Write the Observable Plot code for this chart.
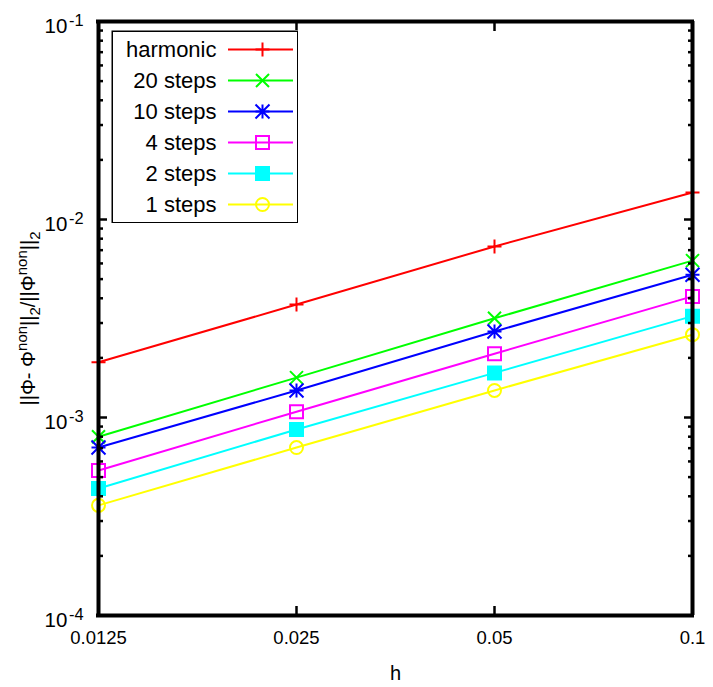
<!DOCTYPE html>
<html>
<head>
<meta charset="utf-8">
<script src="https://cdn.jsdelivr.net/npm/d3@7"></script>
<script src="https://cdn.jsdelivr.net/npm/@observablehq/plot@0.6"></script>
<style>
  html, body { margin: 0; padding: 0; background: #fff; }
  #wrap { position: relative; width: 713px; height: 687px; font-family: "Liberation Sans", Arial, sans-serif; }
  #legend { position: absolute; left: 111px; top: 30px; }
</style>
</head>
<body>
<div id="wrap"><div id="chart"></div><div id="legend"></div></div>
<script>
// ---- data ----
const hValues = [0.0125, 0.025, 0.05, 0.1];
const seriesNames = ["harmonic", "20 steps", "10 steps", "4 steps", "2 steps", "1 steps"];
const harmonic = [1.90e-3, 3.72e-3, 7.31e-3, 1.37e-2];
const steps20  = [8.0e-4, 1.59e-3, 3.17e-3, 6.2e-3];
const steps10  = [7.05e-4, 1.37e-3, 2.72e-3, 5.26e-3];
const steps4   = [5.4e-4, 1.07e-3, 2.10e-3, 4.09e-3];
const steps2   = [4.38e-4, 8.7e-4, 1.68e-3, 3.25e-3];
const steps1   = [3.6e-4, 7.05e-4, 1.37e-3, 2.62e-3];
const xTicks = [0.0125, 0.025, 0.05, 0.1];
const yMajorTicks = [1e-4, 1e-3, 1e-2, 1e-1];
const yMinorTicks = [1e-4, 1e-3, 1e-2].flatMap(b => [2,3,4,5,6,7,8,9].map(m => +(m*b).toPrecision(3)));
const xTitle = "h";

// ---- styles ----
const colors = ["#ff0000", "#00ff00", "#0000ff", "#ff00ff", "#00ffff", "#ffff00"];
const allValues = [harmonic, steps20, steps10, steps4, steps2, steps1];

const rows = seriesNames.flatMap((name, i) => hValues.map((h, j) => ({series: name, h, err: allValues[i][j]})));

// custom gnuplot-like symbols (size = pi r^2)
const rad = s => Math.sqrt(s / Math.PI);
const symPlus = {draw(c, s) { const r = rad(s); c.moveTo(-r, 0); c.lineTo(r, 0); c.moveTo(0, -r); c.lineTo(0, r); }};
const symTimes = {draw(c, s) { const r = rad(s); c.moveTo(-r, -r); c.lineTo(r, r); c.moveTo(-r, r); c.lineTo(r, -r); }};
const symStar = {draw(c, s) { const r = rad(s); c.moveTo(-r, 0); c.lineTo(r, 0); c.moveTo(0, -r); c.lineTo(0, r); c.moveTo(-r, -r); c.lineTo(r, r); c.moveTo(-r, r); c.lineTo(r, -r); }};
const symSquare = {draw(c, s) { const r = rad(s); c.rect(-r, -r, 2 * r, 2 * r); }};
const symCircle = {draw(c, s) { const r = rad(s); c.moveTo(r, 0); c.arc(0, 0, r, 0, 2 * Math.PI); }};
const symbols = [symPlus, symTimes, symStar, symSquare, symSquare, symCircle];
const symR = [7, 6.5, 7, 6.5, 6.5, 6.5];
const fills = ["none", "none", "none", "none", "series", "none"];

const colorScale = {domain: seriesNames, range: colors};
const fontFamily = "'Liberation Sans', Arial, Helvetica, sans-serif";

const dotMarks = seriesNames.map((name, i) =>
  Plot.dot(rows.filter(d => d.series === name), {
    x: "h", y: "err", symbol: symbols[i], r: symR[i],
    stroke: "series", fill: fills[i], strokeWidth: 2
  })
);

const chart = Plot.plot({
  width: 713,
  height: 687,
  marginLeft: 98,
  marginRight: 21,
  marginTop: 21,
  marginBottom: 72,
  style: {fontFamily, fontSize: "18px", color: "black", background: "white"},
  x: {type: "log", domain: [0.0125, 0.1]},
  y: {type: "log", domain: [1e-4, 1e-1]},
  color: colorScale,
  marks: [
    Plot.line(rows, {x: "h", y: "err", z: "series", stroke: "series", strokeWidth: 2}),
    ...dotMarks,
    // inward ticks
    Plot.axisY(yMajorTicks, {anchor: "left", tickSize: -9, fill: "none", stroke: "black", strokeWidth: 2.5, label: null}),
    Plot.axisY(yMinorTicks, {anchor: "left", tickSize: -5, fill: "none", stroke: "black", strokeWidth: 2.5, label: null}),
    Plot.axisY(yMajorTicks, {anchor: "right", tickSize: -9, fill: "none", stroke: "black", strokeWidth: 2.5, label: null}),
    Plot.axisY(yMinorTicks, {anchor: "right", tickSize: -5, fill: "none", stroke: "black", strokeWidth: 2.5, label: null}),
    Plot.axisX(xTicks, {anchor: "bottom", tickSize: -9, fill: "none", stroke: "black", strokeWidth: 2.5, label: null}),
    Plot.axisX(xTicks, {anchor: "top", tickSize: -9, fill: "none", stroke: "black", strokeWidth: 2.5, label: null}),
    // labels
    Plot.axisY(yMajorTicks, {anchor: "left", tickSize: 0, tickPadding: 15, stroke: "none", label: null, dy: 5,
      tickFormat: d => "10^" + Math.round(Math.log10(d)), fontSize: 20.5}),
    Plot.axisX(xTicks, {anchor: "bottom", tickSize: 0, tickPadding: 15, stroke: "none", label: null,
      tickFormat: d => String(d), fontSize: 18.5}),
    Plot.text([xTitle], {frameAnchor: "bottom", dy: 64, fontSize: 20, text: d => d}),
    Plot.text(["Y_TITLE"], {frameAnchor: "left", dx: -70, rotate: -90, textAnchor: "middle", fontSize: 20, text: d => d}),
    // plot border
    Plot.ruleX([0.0125, 0.1], {stroke: "black", strokeWidth: 4}),
    Plot.ruleY([1e-4, 1e-1], {stroke: "black", strokeWidth: 4, strokeLinecap: "square"})
  ]
});

// superscripts on y tick labels
d3.select(chart).selectAll('g[aria-label="y-axis tick label"] text').each(function() {
  const t = this.textContent;
  const m = t.match(/^10\^(-?\d+)$/);
  if (!m) return;
  const sel = d3.select(this);
  sel.text(null);
  sel.append("tspan").text("10");
  sel.append("tspan").attr("dy", "-0.45em").attr("dx", "0.1em").attr("font-size", "0.8em").text(m[1]);
});
// y title with sub/superscripts
d3.select(chart).selectAll("text").filter(function() { return this.textContent === "Y_TITLE"; }).each(function() {
  const sel = d3.select(this);
  sel.text(null);
  const parts = [["||Φ- Φ", 0], ["non", -1], ["||", 0], ["2", 1], ["/||Φ", 0], ["non", -1], ["||", 0], ["2", 1]];
  let cur = 0;
  for (const [txt, lvl] of parts) {
    const target = lvl === -1 ? -0.42 : lvl === 1 ? 0.25 : 0;
    const ts = sel.append("tspan").attr("dy", (target - cur) / (lvl === 0 ? 1 : 0.75) + "em").text(txt);
    if (lvl !== 0) ts.attr("font-size", "0.75em");
    cur = target;
  }
});
document.getElementById("chart").append(chart);

// ---- legend ----
const legend = Plot.plot({
  width: 187,
  height: 193,
  margin: 0,
  style: {fontFamily, fontSize: "22px", color: "black", background: "white"},
  y: {type: "point", domain: seriesNames, range: [17, 175], padding: 0, axis: null},
  color: colorScale,
  marks: [
    Plot.tickY(seriesNames, {y: d => d, stroke: d => d, insetLeft: 117, insetRight: 5, strokeWidth: 2}),
    ...seriesNames.map((name, i) => Plot.dot([name], {y: d => d, frameAnchor: "left", dx: 151,
      symbol: symbols[i], r: symR[i], stroke: d => d, fill: fills[i] === "none" ? "none" : (d => d), strokeWidth: 2})),
    Plot.text(seriesNames, {y: d => d, frameAnchor: "left", dx: 105, textAnchor: "end", text: d => d}),
    Plot.frame({stroke: "black", strokeWidth: 1.5, inset: 0.75})
  ]
});
document.getElementById("legend").append(legend);
</script>
</body>
</html>
